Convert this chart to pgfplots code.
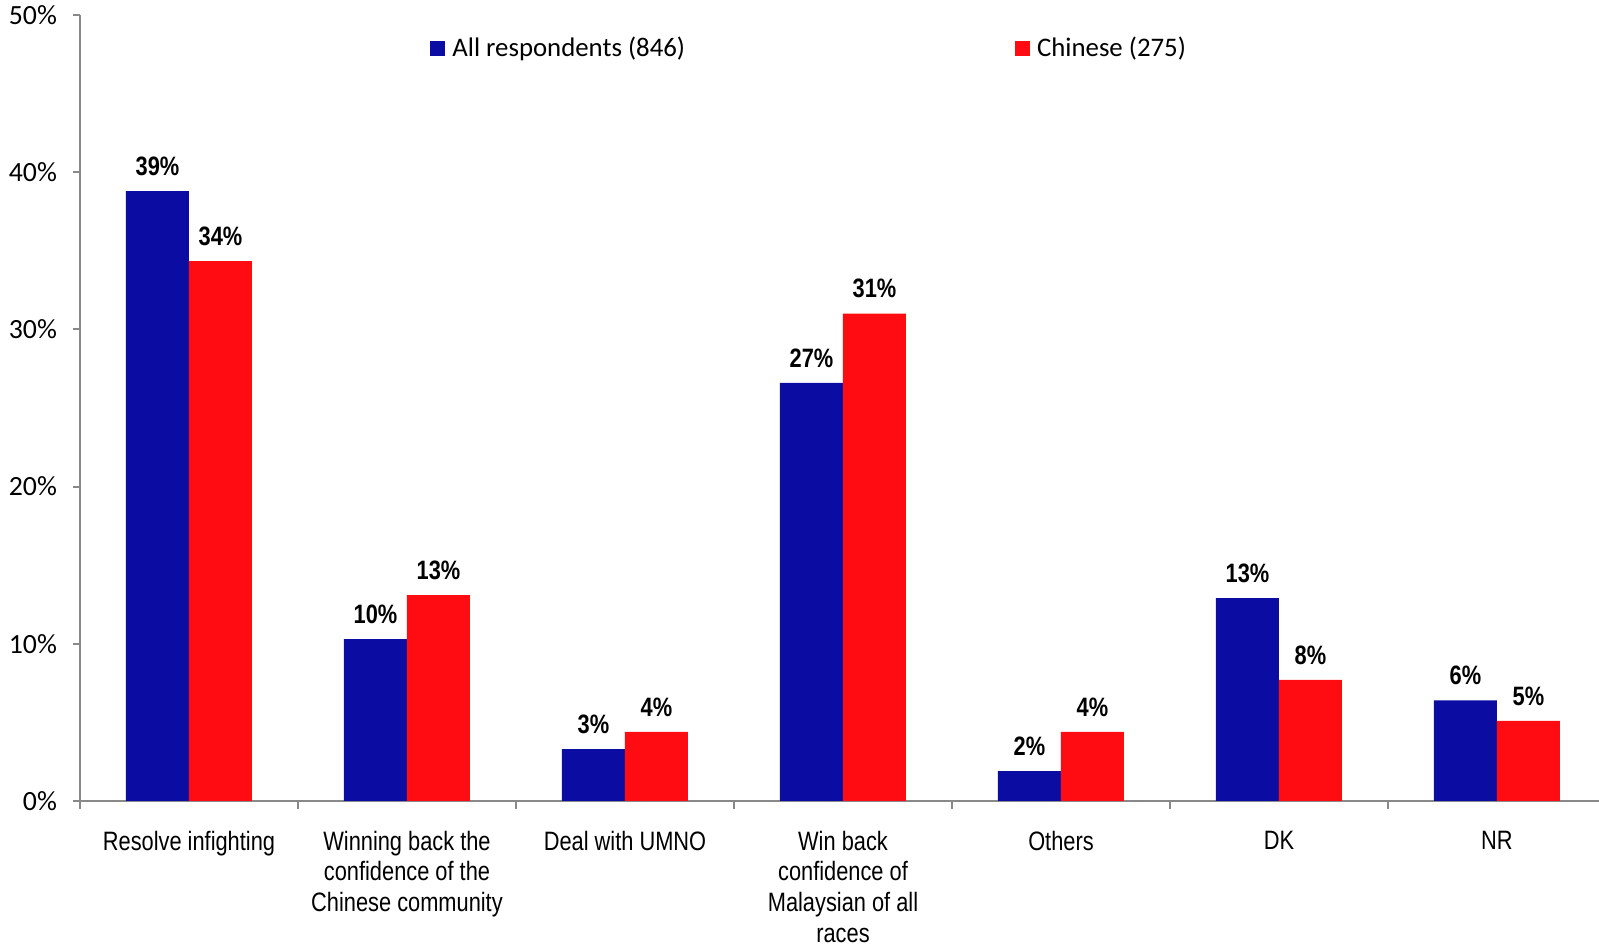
\documentclass[border=0pt]{standalone}
\usepackage{fontspec}
\setmainfont{Carlito}
\newfontfamily\narrowfont[FakeStretch=0.82]{Liberation Sans}
\usepackage{pgfplots}
\usepackage{pgfplotstable}
\pgfplotsset{compat=1.18}

\definecolor{allblue}{RGB}{11,12,161}
\definecolor{chnred}{RGB}{255,12,18}
\definecolor{axisgray}{RGB}{137,137,137}

% share of respondents (%)
\pgfplotstableread{
idx all   chinese
0   38.8  34.35
1   10.3  13.1
2   3.3   4.4
3   26.6  31.0
4   1.9   4.4
5   12.9  7.7
6   6.4   5.1
}\priorities

\pgfplotsset{
  sqlegend/.style={legend image code/.code={%
    \fill[##1,draw=none] (0bp,-3.75bp) rectangle (7.5bp,3.75bp);}},
}

\begin{document}
\begin{tikzpicture}
\useasboundingbox (-40bp,-71.5bp) rectangle (759.5bp,400.5bp);
\begin{axis}[
  at={(0,0)}, anchor=south west,
  scale only axis, width=759.5bp, height=393bp,
  ybar=0pt, bar width=0.289,
  xmin=-0.5, xmax=6.468, ymin=0, ymax=50,
  axis lines*=left,
  axis line style={draw=axisgray, line width=1.2bp},
  tick align=outside,
  major tick length=3.5bp, minor tick length=4bp,
  xtick={0,...,6},
  minor xtick={-0.5,0.5,...,6.5},
  major x tick style={draw=none},
  minor x tick style={draw=axisgray, line width=1bp},
  y tick style={draw=axisgray, line width=1bp},
  xticklabels={Resolve infighting,
    {Winning back the\\confidence of the\\Chinese community},
    Deal with UMNO,
    {Win back\\confidence of\\Malaysian of all\\races},
    Others, DK, NR},
  xticklabel style={font=\narrowfont\fontsize{13.3bp}{15.3bp}\selectfont,
    align=center, anchor=north, yshift=-8bp},
  ytick={0,10,...,50},
  yticklabel={\pgfmathprintnumber[assume math mode=true]{\tick}\%},
  yticklabel style={font=\fontsize{13.9bp}{16bp}\selectfont, xshift=-4.5bp},
  nodes near coords={\pgfmathprintnumber[fixed,precision=0,assume math mode=true]{\pgfplotspointmeta}\%},
  nodes near coords align={vertical},
  every node near coord/.append style={
    font=\narrowfont\bfseries\fontsize{13.3bp}{15bp}\selectfont,
    inner sep=0pt, yshift=7.5bp, text=black},
  legend columns=2,
  legend style={at={(0.2304,0.958)}, anchor=west, draw=none, fill=none,
    inner sep=0pt, nodes={inner sep=0pt},
    font=\fontsize{13.4bp}{16bp}\selectfont,
    /tikz/every odd column/.append style={column sep=3.5bp},
    /tikz/every even column/.append style={column sep=165bp}},
]
\addplot[fill=allblue, draw=none, sqlegend] table[x=idx, y=all] {\priorities};
\addlegendentry{All respondents (846)}
\addplot[fill=chnred, draw=none, sqlegend] table[x=idx, y=chinese] {\priorities};
\addlegendentry{Chinese (275)}
\end{axis}
\end{tikzpicture}
\end{document}
